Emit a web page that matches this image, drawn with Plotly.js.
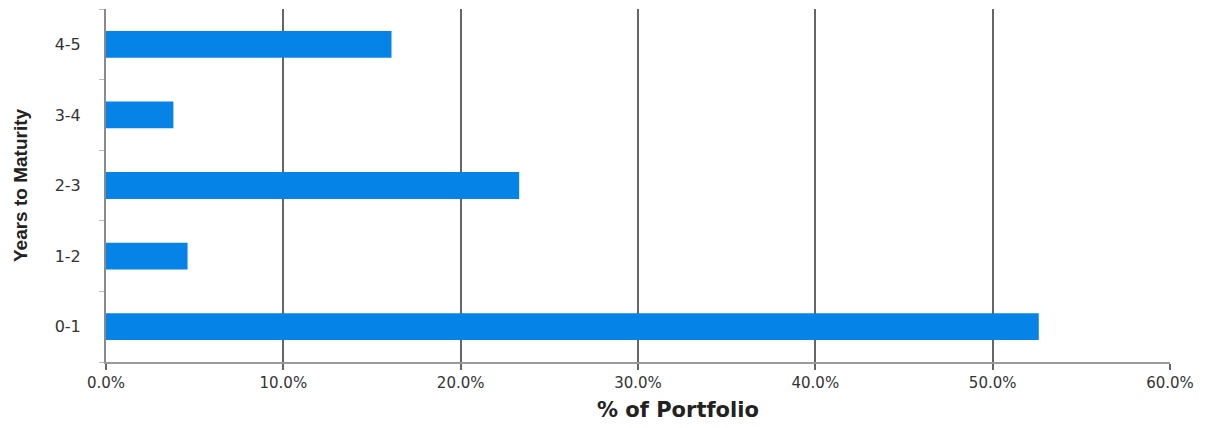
<!DOCTYPE html>
<html>
<head>
<meta charset="utf-8">
<script src="https://cdn.plot.ly/plotly-3.0.1.min.js"></script>
<style>html,body{margin:0;padding:0;background:#fff;}#chart{width:1210px;height:428px;}</style>
</head>
<body>
<div id="chart"></div>
<script>
var categories = ["0-1", "1-2", "2-3", "3-4", "4-5"];
var portfolioPct = [52.6, 4.6, 23.3, 3.8, 16.1];
var xTickVals = [0, 10, 20, 30, 40, 50, 60];
var xTickLabels = ["0.0%", "10.0%", "20.0%", "30.0%", "40.0%", "50.0%", "60.0%"];
var xTitle = "% of Portfolio";
var yTitle = "Years to Maturity";

var trace = {
  type: "bar",
  orientation: "h",
  y: categories,
  x: portfolioPct,
  marker: {color: "#0583E6", line: {width: 0}},
  hoverinfo: "x+y"
};

var layout = {
  width: 1210,
  height: 428,
  margin: {l: 106, r: 40, t: 9, b: 66, pad: 0},
  paper_bgcolor: "#ffffff",
  plot_bgcolor: "#ffffff",
  bargap: 0.62,
  showlegend: false,
  xaxis: {
    range: [0, 60],
    tickmode: "array",
    tickvals: xTickVals,
    ticktext: xTickLabels,
    showgrid: true,
    gridcolor: "#666666",
    gridwidth: 2,
    zeroline: false,
    showline: true,
    linecolor: "#9a9a9a",
    linewidth: 2,
    ticks: "outside",
    ticklen: 6,
    tickcolor: "#666666",
    tickwidth: 2,
    tickfont: {family: "DejaVu Sans, Verdana, sans-serif", size: 15, color: "#333333"},
    automargin: false
  },
  yaxis: {
    type: "category",
    categoryorder: "array",
    categoryarray: categories,
    showgrid: false,
    zeroline: false,
    showline: true,
    linecolor: "#8a8a8a",
    linewidth: 2,
    ticks: "outside",
    tickson: "boundaries",
    ticklen: 5,
    tickcolor: "#bbbbbb",
    tickwidth: 1,
    ticklabelstandoff: 20,
    tickfont: {family: "DejaVu Sans, Verdana, sans-serif", size: 16, color: "#333333"},
    automargin: false,
    title: {
      text: yTitle,
      font: {family: "Liberation Sans, Arial, sans-serif", size: 19, color: "#222222", weight: "bold"},
      standoff: 22
    }
  },
  annotations: [{
    text: xTitle,
    xref: "paper", yref: "paper",
    x: 0.5376, y: -0.136,
    xanchor: "center", yanchor: "middle",
    showarrow: false,
    font: {family: "DejaVu Sans, Verdana, sans-serif", size: 21, color: "#222222", weight: "bold"}
  }]
};

Plotly.newPlot("chart", [trace], layout, {displayModeBar: false, staticPlot: true});
</script>
</body>
</html>
